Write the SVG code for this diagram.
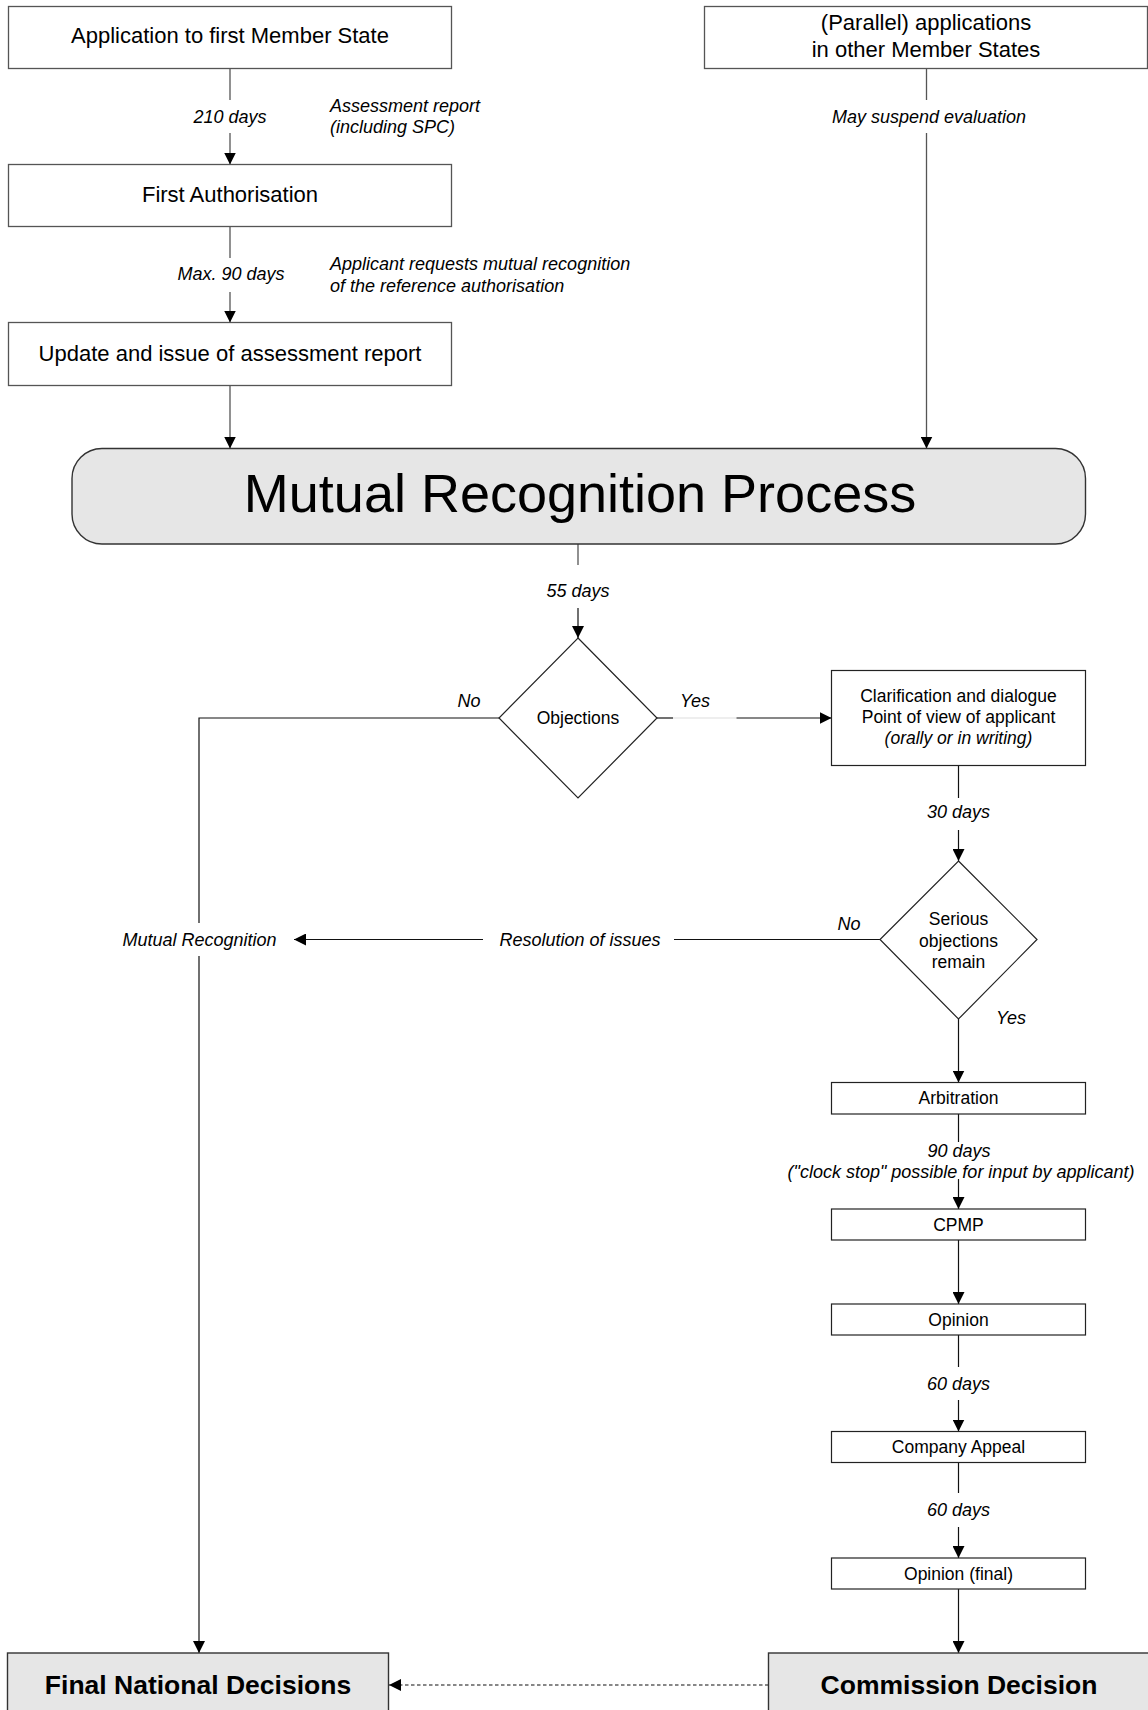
<svg xmlns="http://www.w3.org/2000/svg" width="1148" height="1710" viewBox="0 0 1148 1710">
<style>
  .box{fill:#fff;stroke:#555;stroke-width:1.3}
  .box2{fill:#fff;stroke:#222;stroke-width:1.2}
  .gbox{fill:#e6e6e6;stroke:#333;stroke-width:1.4}
  .c{fill:none;stroke:#555;stroke-width:1.3}
  .k{fill:none;stroke:#111;stroke-width:1.2}
  .lite{fill:none;stroke:#ddd;stroke-width:1.2}
  .dash{fill:none;stroke:#111;stroke-width:1.2;stroke-dasharray:3.5 2.5}
  text{font-family:"Liberation Sans",Arial,sans-serif;fill:#000;text-anchor:middle}
  .t{font-size:22px}
  .s{font-size:17.5px}
  .i{font-size:18px;font-style:italic}
  .il{font-size:18px;font-style:italic;text-anchor:start}
  .big{font-size:54px}
  .b{font-size:26.5px;font-weight:bold}
</style>
<defs>
  <marker id="ah" markerUnits="userSpaceOnUse" markerWidth="12" markerHeight="12" refX="12" refY="6" orient="auto">
    <path d="M0,0 L12,6 L0,12 z" fill="#000"/>
  </marker>
</defs>

<g id="connectors">
  <line class="c" x1="230" y1="68.5" x2="230" y2="100"/>
  <line class="c" x1="230" y1="133" x2="230" y2="164.5" marker-end="url(#ah)"/>
  <line class="c" x1="230" y1="226.5" x2="230" y2="258"/>
  <line class="c" x1="230" y1="292" x2="230" y2="322.5" marker-end="url(#ah)"/>
  <line class="c" x1="230" y1="385.5" x2="230" y2="448.5" marker-end="url(#ah)"/>
  <line class="c" x1="926.5" y1="68.5" x2="926.5" y2="100"/>
  <line class="c" x1="926.5" y1="133" x2="926.5" y2="448.5" marker-end="url(#ah)"/>
  <line class="c" x1="578" y1="544" x2="578" y2="565"/>
  <line class="k" x1="578" y1="608" x2="578" y2="638" marker-end="url(#ah)"/>
  <polyline class="k" points="499,718 199,718 199,923"/>
  <line class="k" x1="199" y1="956" x2="199" y2="1653" marker-end="url(#ah)"/>
  <line class="k" x1="657" y1="718" x2="673" y2="718"/>
  <line class="lite" x1="673" y1="718" x2="736.5" y2="718"/>
  <line class="k" x1="736.5" y1="718" x2="831.5" y2="718" marker-end="url(#ah)"/>
  <line class="k" x1="958.5" y1="765.5" x2="958.5" y2="798"/>
  <line class="k" x1="958.5" y1="830" x2="958.5" y2="861" marker-end="url(#ah)"/>
  <line class="k" x1="880" y1="939.5" x2="674" y2="939.5"/>
  <line class="k" x1="483" y1="939.5" x2="294" y2="939.5" marker-end="url(#ah)"/>
  <line class="k" x1="958.5" y1="1019" x2="958.5" y2="1082.5" marker-end="url(#ah)"/>
  <line class="k" x1="958.5" y1="1114" x2="958.5" y2="1142"/>
  <line class="k" x1="958.5" y1="1179" x2="958.5" y2="1209" marker-end="url(#ah)"/>
  <line class="k" x1="958.5" y1="1240" x2="958.5" y2="1304" marker-end="url(#ah)"/>
  <line class="k" x1="958.5" y1="1335" x2="958.5" y2="1367"/>
  <line class="k" x1="958.5" y1="1400" x2="958.5" y2="1431.5" marker-end="url(#ah)"/>
  <line class="k" x1="958.5" y1="1462.5" x2="958.5" y2="1493"/>
  <line class="k" x1="958.5" y1="1527" x2="958.5" y2="1558" marker-end="url(#ah)"/>
  <line class="k" x1="958.5" y1="1589" x2="958.5" y2="1653" marker-end="url(#ah)"/>
  <line class="dash" x1="768.5" y1="1685" x2="389" y2="1685" marker-end="url(#ah)"/>
</g>

<g id="labels">
  <text class="i" x="230" y="123">210 days</text>
  <text class="il" x="330" y="112">Assessment report</text>
  <text class="il" x="330" y="133">(including SPC)</text>
  <text class="i" x="231" y="280">Max. 90 days</text>
  <text class="il" x="330" y="270">Applicant requests mutual recognition</text>
  <text class="il" x="330" y="291.5">of the reference authorisation</text>
  <text class="i" x="929" y="123">May suspend evaluation</text>
  <text class="i" x="578" y="597">55 days</text>
  <text class="i" x="469" y="707">No</text>
  <text class="i" x="695" y="707">Yes</text>
  <text class="i" x="958.5" y="818">30 days</text>
  <text class="i" x="849" y="929.5">No</text>
  <text class="i" x="580" y="945.5">Resolution of issues</text>
  <text class="i" x="199.5" y="945.5">Mutual Recognition</text>
  <text class="i" x="1011" y="1024">Yes</text>
  <text class="i" x="959" y="1156.5">90 days</text>
  <text class="i" x="961" y="1177.5">("clock stop" possible for input by applicant)</text>
  <text class="i" x="958.5" y="1390">60 days</text>
  <text class="i" x="958.5" y="1516">60 days</text>
</g>

<g id="n-app1">
  <rect class="box" x="8.5" y="6.5" width="443" height="62"/>
  <text class="t" x="230" y="43">Application to first Member State</text>
</g>
<g id="n-parallel">
  <rect class="box" x="704.5" y="6.5" width="443" height="62"/>
  <text class="t" x="926" y="30">(Parallel) applications</text>
  <text class="t" x="926" y="57">in other Member States</text>
</g>
<g id="n-firstauth">
  <rect class="box" x="8.5" y="164.5" width="443" height="62"/>
  <text class="t" x="230" y="202">First Authorisation</text>
</g>
<g id="n-update">
  <rect class="box" x="8.5" y="322.5" width="443" height="63"/>
  <text class="t" x="230" y="361">Update and issue of assessment report</text>
</g>
<g id="n-mrp">
  <rect class="gbox" x="72" y="448.5" width="1013.5" height="95.5" rx="30" ry="30"/>
  <text class="big" x="580" y="512">Mutual Recognition Process</text>
</g>
<g id="n-objections">
  <polygon class="box2" points="578,638 657,718 578,798 499,718"/>
  <text class="s" x="578" y="723.5">Objections</text>
</g>
<g id="n-clarification">
  <rect class="box2" x="831.5" y="670.5" width="254" height="95"/>
  <text class="s" x="958.5" y="701.5">Clarification and dialogue</text>
  <text class="s" x="958.5" y="722.5">Point of view of applicant</text>
  <text class="s" x="958.5" y="743.5" font-style="italic">(orally or in writing)</text>
</g>
<g id="n-serious">
  <polygon class="box2" points="958.5,861 1037,939.5 958.5,1019 880,939.5"/>
  <text class="s" x="958.5" y="925">Serious</text>
  <text class="s" x="958.5" y="946.5">objections</text>
  <text class="s" x="958.5" y="968">remain</text>
</g>
<g id="n-arbitration">
  <rect class="box2" x="831.5" y="1082.5" width="254" height="31.5"/>
  <text class="s" x="958.5" y="1104">Arbitration</text>
</g>
<g id="n-cpmp">
  <rect class="box2" x="831.5" y="1209" width="254" height="31"/>
  <text class="s" x="958.5" y="1230.5">CPMP</text>
</g>
<g id="n-opinion">
  <rect class="box2" x="831.5" y="1304" width="254" height="31"/>
  <text class="s" x="958.5" y="1325.5">Opinion</text>
</g>
<g id="n-appeal">
  <rect class="box2" x="831.5" y="1431.5" width="254" height="31"/>
  <text class="s" x="958.5" y="1453">Company Appeal</text>
</g>
<g id="n-opinionfinal">
  <rect class="box2" x="831.5" y="1558" width="254" height="31"/>
  <text class="s" x="958.5" y="1579.5">Opinion (final)</text>
</g>
<g id="n-national">
  <rect class="gbox" x="7.5" y="1653" width="381" height="80"/>
  <text class="b" x="198" y="1694">Final National Decisions</text>
</g>
<g id="n-commission">
  <rect class="gbox" x="768.5" y="1653" width="400" height="80"/>
  <text class="b" x="959" y="1694">Commission Decision</text>
</g>
</svg>
